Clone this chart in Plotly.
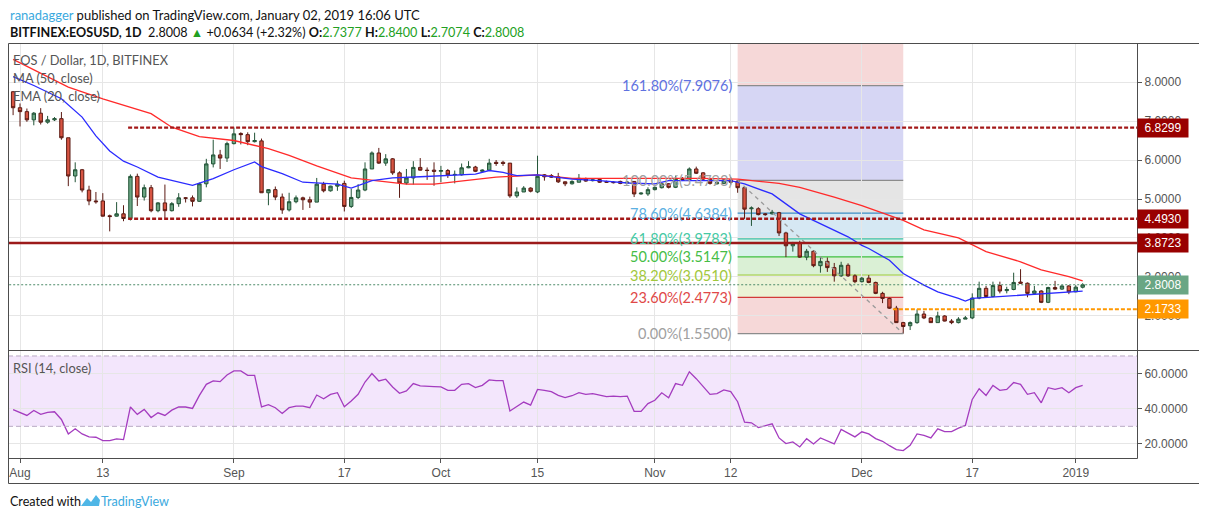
import pandas as pd
import plotly.graph_objects as go

W, H = 1207, 520
OFF = 8  # the page body margin pushes the figure 8px right and down

# daily candles 2018-07-31 .. 2019-01-02
dates = pd.date_range('2018-07-31', periods=156, freq='D')

opens = [7.75, 7.34, 7.24, 7.03, 7.20, 6.97, 7.03, 7.06, 6.57, 5.59,
         5.75, 5.23, 4.95, 4.95, 4.57, 4.56, 4.62, 4.50, 5.58, 5.05,
         5.29, 4.70, 4.90, 4.70, 4.88, 5.03, 5.03, 4.94, 5.39, 5.90,
         6.13, 6.05, 6.42, 6.68, 6.65, 6.47, 6.49, 5.16, 5.24, 5.05,
         4.72, 4.93, 5.03, 4.98, 4.92, 5.38, 5.21, 5.33, 5.40, 4.81,
         5.04, 5.23, 5.77, 6.18, 5.92, 6.03, 5.67, 5.41, 5.54, 5.81,
         5.74, 5.74, 5.71, 5.73, 5.62, 5.62, 5.80, 5.82, 5.71, 5.74,
         5.94, 5.94, 5.92, 5.08, 5.18, 5.28, 5.18, 5.62, 5.60, 5.57,
         5.44, 5.39, 5.43, 5.51, 5.47, 5.50, 5.45, 5.43, 5.45, 5.41,
         5.45, 5.13, 5.13, 5.24, 5.29, 5.39, 5.30, 5.53, 5.49, 5.77,
         5.67, 5.51, 5.39, 5.40, 5.49, 5.46, 5.29, 4.75, 4.75, 4.62,
         4.62, 4.65, 4.13, 3.80, 3.86, 3.51, 3.66, 3.29, 3.40, 3.24,
         3.03, 3.30, 3.03, 2.88, 2.97, 2.86, 2.58, 2.45, 2.20, 1.83,
         1.75, 1.83, 2.05, 1.95, 1.83, 2.00, 1.87, 1.83, 1.92, 1.95,
         2.46, 2.71, 2.50, 2.78, 2.65, 2.68, 2.87, 2.84, 2.58, 2.64,
         2.35, 2.73, 2.69, 2.77, 2.62, 2.7377]
highs = [7.77, 7.45, 7.32, 7.23, 7.33, 7.13, 7.10, 7.23, 6.57, 5.94,
         5.77, 5.34, 5.18, 5.15, 4.60, 4.92, 4.84, 5.63, 5.65, 5.37,
         5.36, 4.92, 5.37, 4.92, 5.15, 5.05, 5.09, 5.42, 6.03, 6.52,
         6.26, 6.47, 6.83, 6.71, 6.71, 6.70, 6.55, 5.25, 5.32, 5.14,
         5.16, 5.09, 5.06, 5.06, 5.54, 5.44, 5.34, 5.47, 5.47, 5.26,
         5.38, 5.94, 6.22, 6.31, 6.15, 6.05, 5.71, 5.77, 5.97, 6.05,
         5.81, 5.94, 5.85, 5.77, 5.73, 5.91, 5.97, 5.85, 5.76, 6.03,
         6.00, 5.98, 5.92, 5.30, 5.33, 5.30, 6.11, 5.64, 5.64, 5.67,
         5.45, 5.48, 5.64, 5.55, 5.52, 5.53, 5.47, 5.46, 5.47, 5.46,
         5.46, 5.17, 5.30, 5.32, 5.42, 5.41, 5.60, 5.56, 5.81, 5.83,
         5.69, 5.53, 5.45, 5.51, 5.56, 5.48, 5.29, 4.81, 4.79, 4.64,
         4.72, 4.67, 4.16, 3.90, 3.93, 3.72, 3.68, 3.51, 3.50, 3.36,
         3.39, 3.35, 3.07, 3.00, 3.05, 2.88, 2.62, 2.47, 2.26, 1.85,
         1.86, 2.17, 2.13, 1.97, 2.11, 2.02, 1.92, 1.97, 2.00, 2.58,
         2.88, 2.77, 2.88, 2.88, 2.75, 3.11, 3.20, 2.86, 2.77, 2.66,
         2.75, 2.90, 2.79, 2.79, 2.79, 2.84]
lows = [7.15, 6.86, 6.98, 6.89, 6.91, 6.93, 7.00, 6.52, 5.33, 5.43,
        5.17, 4.84, 4.88, 4.55, 4.17, 4.55, 4.43, 4.45, 4.82, 4.96,
        4.66, 4.66, 4.51, 4.68, 4.80, 4.91, 4.81, 4.93, 5.30, 5.81,
        5.77, 5.95, 6.40, 6.40, 6.38, 6.45, 5.16, 4.84, 4.97, 4.62,
        4.68, 4.89, 4.72, 4.77, 4.92, 5.17, 5.19, 5.21, 4.68, 4.77,
        5.00, 5.20, 5.77, 5.90, 5.85, 5.62, 5.03, 5.37, 5.37, 5.73,
        5.49, 5.34, 5.43, 5.54, 5.40, 5.60, 5.79, 5.69, 5.69, 5.73,
        5.85, 5.85, 5.03, 5.03, 5.18, 5.17, 5.15, 5.47, 5.54, 5.41,
        5.33, 5.37, 5.43, 5.44, 5.45, 5.41, 5.41, 5.40, 5.38, 5.39,
        5.05, 5.11, 5.08, 5.22, 5.27, 5.27, 5.28, 5.46, 5.47, 5.64,
        5.47, 5.37, 5.37, 5.38, 5.37, 5.16, 4.49, 4.31, 4.58, 4.57,
        4.60, 4.05, 3.51, 3.65, 3.49, 3.43, 3.25, 3.11, 3.13, 2.88,
        3.00, 3.00, 2.84, 2.86, 2.84, 2.56, 2.33, 2.18, 1.82, 1.55,
        1.64, 1.80, 1.92, 1.82, 1.83, 1.86, 1.79, 1.81, 1.92, 1.92,
        2.43, 2.48, 2.48, 2.58, 2.58, 2.66, 2.83, 2.48, 2.54, 2.33,
        2.33, 2.67, 2.67, 2.56, 2.61, 2.7074]
closes = [7.34, 7.24, 7.03, 7.20, 6.97, 7.03, 7.06, 6.57, 5.59, 5.75,
          5.23, 4.95, 4.93, 4.56, 4.55, 4.62, 4.50, 5.58, 5.05, 5.29,
          4.70, 4.90, 4.70, 4.88, 5.03, 5.02, 4.94, 5.39, 5.90, 6.13,
          6.05, 6.42, 6.67, 6.65, 6.47, 6.50, 5.16, 5.24, 5.05, 4.72,
          4.93, 5.03, 4.98, 4.92, 5.38, 5.21, 5.33, 5.38, 4.81, 5.04,
          5.23, 5.77, 6.18, 5.92, 6.03, 5.67, 5.41, 5.54, 5.81, 5.74,
          5.73, 5.71, 5.73, 5.62, 5.63, 5.80, 5.83, 5.71, 5.74, 5.92,
          5.91, 5.91, 5.08, 5.18, 5.28, 5.20, 5.58, 5.57, 5.56, 5.44,
          5.39, 5.45, 5.53, 5.46, 5.49, 5.43, 5.43, 5.42, 5.40, 5.43,
          5.13, 5.15, 5.24, 5.30, 5.39, 5.30, 5.53, 5.49, 5.77, 5.66,
          5.51, 5.40, 5.42, 5.49, 5.43, 5.29, 4.74, 4.77, 4.60, 4.60,
          4.66, 4.13, 3.80, 3.86, 3.51, 3.66, 3.29, 3.40, 3.24, 3.03,
          3.30, 3.03, 2.88, 2.97, 2.86, 2.58, 2.45, 2.20, 1.83, 1.73,
          1.83, 2.05, 1.95, 1.83, 2.00, 1.87, 1.83, 1.92, 1.95, 2.46,
          2.71, 2.50, 2.78, 2.64, 2.68, 2.86, 2.84, 2.58, 2.64, 2.35,
          2.73, 2.69, 2.77, 2.62, 2.74, 2.8008]

rsi = [39.5, 38.0, 36.2, 39.0, 36.8, 38.0, 38.3, 33.9, 25.7, 28.6,
       25.7, 24.0, 23.8, 21.9, 21.9, 22.9, 22.5, 41.0, 36.8, 39.6,
       35.0, 37.7, 36.2, 39.2, 41.0, 41.0, 40.2, 47.6, 53.9, 55.8,
       55.4, 59.2, 61.5, 61.5, 59.0, 59.0, 41.0, 42.3, 40.6, 37.3,
       40.6, 41.5, 41.5, 40.6, 47.8, 45.7, 48.2, 49.1, 41.1, 44.4,
       48.2, 55.2, 60.0, 55.8, 56.8, 52.4, 48.8, 50.1, 54.3, 53.0,
       52.6, 52.6, 52.4, 50.5, 50.5, 53.9, 54.3, 52.0, 53.3, 56.4,
       56.0, 56.0, 38.7, 41.5, 43.8, 42.1, 51.0, 50.5, 49.7, 47.6,
       46.3, 47.4, 49.1, 48.2, 48.6, 47.8, 46.9, 47.2, 46.9, 47.2,
       38.5, 38.5, 42.9, 44.8, 49.1, 46.3, 54.3, 53.3, 61.0, 57.1,
       52.4, 48.2, 48.6, 50.7, 49.7, 44.0, 32.4, 32.0, 29.3, 30.5,
       31.4, 23.4, 20.2, 21.1, 18.3, 23.0, 20.0, 23.4, 21.9, 20.0,
       28.2, 25.9, 24.0, 26.9, 25.7, 23.0, 21.5, 19.0, 16.8, 16.2,
       19.2, 25.7, 24.8, 23.4, 28.6, 27.0, 27.0, 29.0, 30.5, 45.3,
       51.4, 47.6, 53.3, 50.5, 51.0, 54.9, 53.9, 48.2, 49.1, 43.4,
       52.0, 51.0, 52.0, 49.1, 52.0, 53.3]

# moving averages, sampled off the chart (index into dates)
ma50_idx = [0, 3, 8, 13, 16, 20, 23, 27, 32, 37, 40, 44, 49, 54, 57, 61, 64,
            67, 70, 76, 81, 90, 100, 105, 111, 114, 119, 123, 129, 132, 137,
            141, 146, 149, 153, 155]
ma50_vals = [8.58, 8.32, 7.87, 7.57, 7.40, 7.19, 6.84, 6.60, 6.50, 6.29, 6.12,
             5.85, 5.54, 5.43, 5.38, 5.38, 5.44, 5.50, 5.56, 5.62, 5.53, 5.53,
             5.53, 5.51, 5.40, 5.30, 5.05, 4.83, 4.45, 4.21, 4.00, 3.65, 3.39,
             3.18, 3.01, 2.90]
ema20_idx = [0, 3, 7, 10, 12, 14, 16, 18, 21, 24, 26, 29, 32, 35, 36, 39, 40,
             42, 47, 49, 52, 55, 59, 64, 67, 69, 71, 73, 76, 81, 85, 89, 93,
             95, 100, 104, 106, 110, 114, 117, 121, 123, 124, 127, 129, 132,
             134, 137, 138, 139, 144, 149, 155]
ema20_vals = [8.14, 7.91, 7.57, 7.10, 6.62, 6.23, 5.97, 5.82, 5.56, 5.43, 5.35,
              5.52, 5.75, 5.95, 5.83, 5.65, 5.58, 5.43, 5.38, 5.28, 5.47, 5.54,
              5.57, 5.62, 5.64, 5.73, 5.68, 5.60, 5.62, 5.51, 5.47, 5.41, 5.39,
              5.47, 5.47, 5.47, 5.39, 5.13, 4.62, 4.37, 4.03, 3.81, 3.73, 3.43,
              3.09, 2.79, 2.62, 2.45, 2.38, 2.45, 2.51, 2.58, 2.64]

# fibonacci retracement, drawn from the Nov 13 high to the Dec 7 low
fib_start, fib_end = '2018-11-13', '2018-12-07'
fib_pcts = ['0.00', '23.60', '38.20', '50.00', '61.80', '78.60', '100.00', '161.80']
fib_levels = [1.5500, 2.4773, 3.0510, 3.5147, 3.9783, 4.6384, 5.4793, 7.9076]
fib_line_colors = ['#8c8c8c', '#d23a3a', '#9cc93a', '#3fbf3f', '#3fbfa3',
                   '#3d8fc6', '#8c8c8c', '#8c8c8c']
fib_text_colors = ['#a0a0a0', '#e04848', '#a2c83c', '#46bd46', '#45c9a4',
                   '#5cb0e2', '#a0a0a0', '#5f72e0']
fib_fills = ['#f6d8d8', '#ebf3d6', '#daf0d5', '#d7f2ea', '#d6e8f3',
             '#e5e5e5', '#d6d6f4', '#f6d8d8']

# drawn horizontal levels
level_vals = [6.8299, 4.4930, 3.8723, 2.8008, 2.1733]
level_colors = ['#990000', '#990000', '#990000', '#6aa684', '#ff9800']

tick_dates = ['2018-08-01', '2018-08-13', '2018-09-01', '2018-09-17',
              '2018-10-01', '2018-10-15', '2018-11-01', '2018-11-12',
              '2018-12-01', '2018-12-17', '2019-01-01']
tick_text = ['Aug', '13', 'Sep', '17', 'Oct', '15', 'Nov', '12', 'Dec', '17', '2019']


def px(x):
    return max(0.0, (x - OFF) / W)


def py(y):
    return 1 - (y - OFF) / H


fig = go.Figure()

fig.add_trace(go.Candlestick(
    x=dates, open=opens, high=highs, low=lows, close=closes,
    increasing=dict(fillcolor='#6ba583', line=dict(color='#225437', width=1)),
    decreasing=dict(fillcolor='#d75442', line=dict(color='#5b1a13', width=1)),
    whiskerwidth=0, xaxis='x', yaxis='y', showlegend=False, hoverinfo='skip'))

fig.add_trace(go.Scatter(
    x=[dates[k] for k in ma50_idx], y=ma50_vals, mode='lines',
    line=dict(color='#ff2a2a', width=1.3), xaxis='x', yaxis='y',
    showlegend=False, hoverinfo='skip'))
fig.add_trace(go.Scatter(
    x=[dates[k] for k in ema20_idx], y=ema20_vals, mode='lines',
    line=dict(color='#2b2bff', width=1.3), xaxis='x', yaxis='y',
    showlegend=False, hoverinfo='skip'))

fig.add_trace(go.Scatter(
    x=dates, y=rsi, mode='lines', line=dict(color='#a43cbf', width=1.3),
    xaxis='x', yaxis='y2', showlegend=False, hoverinfo='skip'))

shapes = []

# fib bands, lowest first; the last band runs above the 161.8% line
band_tops = fib_levels[1:] + [9.5]
for lo, hi, col in zip(fib_levels, band_tops, fib_fills):
    shapes.append(dict(type='rect', xref='x', yref='y', x0=fib_start, x1=fib_end,
                       y0=lo, y1=hi, fillcolor=col, line=dict(width=0),
                       layer='below'))
for lvl, col in zip(fib_levels, fib_line_colors):
    shapes.append(dict(type='line', xref='x', yref='y', x0=fib_start, x1=fib_end,
                       y0=lvl, y1=lvl, line=dict(color=col, width=1.2),
                       layer='below'))
shapes.append(dict(type='line', xref='x', yref='y', x0=fib_start, x1=fib_end,
                   y0=fib_levels[6], y1=fib_levels[0],
                   line=dict(color='#9a9a9a', width=1.3, dash='4px,4px')))

# horizontal levels
far_right = '2019-01-20'
shapes.append(dict(type='line', xref='x', yref='y', x0='2018-08-16 16:00',
                   x1=far_right, y0=level_vals[0], y1=level_vals[0],
                   line=dict(color='#a31818', width=2.4, dash='4px,2px')))
shapes.append(dict(type='line', xref='x', yref='y', x0='2018-08-16 16:00',
                   x1=far_right, y0=level_vals[1], y1=level_vals[1],
                   line=dict(color='#a31818', width=2.4, dash='4px,2px')))
shapes.append(dict(type='line', xref='x', yref='y', x0='2018-07-20',
                   x1=far_right, y0=level_vals[2], y1=level_vals[2],
                   line=dict(color='#9c1a1a', width=2.6)))
shapes.append(dict(type='line', xref='x', yref='y', x0='2018-07-20',
                   x1=far_right, y0=level_vals[3], y1=level_vals[3],
                   line=dict(color='#4d8a68', width=1, dash='2px,2px')))
shapes.append(dict(type='line', xref='x', yref='y', x0='2018-12-05 12:00',
                   x1=far_right, y0=level_vals[4], y1=level_vals[4],
                   line=dict(color='#ff9800', width=2.2, dash='4px,2px')))

# RSI band 30-70
shapes.append(dict(type='rect', xref='paper', yref='y2', x0=px(8), x1=px(1137),
                   y0=30, y1=70, fillcolor='#f3e6fc', line=dict(width=0),
                   layer='below'))
for lvl in [30, 70]:
    shapes.append(dict(type='line', xref='paper', yref='y2', x0=px(8), x1=px(1137),
                       y0=lvl, y1=lvl,
                       line=dict(color='#b9aac4', width=1, dash='5px,3px')))

# frame of the chart
frame = dict(color='#4d4d4d', width=1)
shapes.append(dict(type='rect', xref='paper', yref='paper', x0=px(8.5), x1=px(1200.5),
                   y0=py(483.5), y1=py(43.5), line=frame))
shapes.append(dict(type='line', xref='paper', yref='paper', x0=px(1137.5), x1=px(1137.5),
                   y0=py(43.5), y1=py(458.5), line=frame))
shapes.append(dict(type='line', xref='paper', yref='paper', x0=px(8.5), x1=px(1200.5),
                   y0=py(350.5), y1=py(350.5), line=frame))
shapes.append(dict(type='line', xref='paper', yref='paper', x0=px(8.5), x1=px(1137.5),
                   y0=py(458.5), y1=py(458.5), line=frame))

# little TradingView logo in the footer
logo = 'M {} {} L {} {} L {} {} L {} {} L {} {} L {} {} Z'.format(
    px(81), py(506), px(87), py(498), px(91), py(502), px(96), py(495),
    px(100), py(500), px(99), py(506))
shapes.append(dict(type='path', xref='paper', yref='paper', path=logo,
                   fillcolor='#4fb6e6', line=dict(width=0)))

annotations = []
text_family = 'Lato, Noto Sans, sans-serif'
head_font = dict(family=text_family, size=13, color='#111')
annotations.append(dict(
    xref='paper', yref='paper', x=px(8), y=py(15), xanchor='left', yanchor='middle',
    showarrow=False, font=head_font,
    text="<span style='color:#3aa9de'>ranadagger</span> published on "
         "TradingView.com, January 02, 2019 16:06 UTC"))
green = '#22a022'
annotations.append(dict(
    xref='paper', yref='paper', x=px(8), y=py(32), xanchor='left', yanchor='middle',
    showarrow=False, font=dict(family=text_family, size=12.6, color='#111'),
    text="<b>BITFINEX:EOSUSD, 1D</b>  2.8008 <span style='color:%s'>▲</span> "
         "+0.0634 (+2.32%%) <b>O:</b><span style='color:%s'>2.7377</span> "
         "<b>H:</b><span style='color:%s'>2.8400</span> "
         "<b>L:</b><span style='color:%s'>2.7074</span> "
         "<b>C:</b><span style='color:%s'>2.8008</span>"
         % (green, green, green, green, green)))

leg_font = dict(family=text_family, size=12.8, color='#555')
for txt, yy in [('EOS / Dollar, 1D, BITFINEX', 60), ('MA (50, close)', 78),
                ('EMA (20, close)', 96), ('RSI (14, close)', 368)]:
    annotations.append(dict(xref='paper', yref='paper', x=px(11), y=py(yy),
                            xanchor='left', yanchor='middle', showarrow=False,
                            text=txt, font=leg_font))

for pct, lvl, col in zip(fib_pcts, fib_levels, fib_text_colors):
    annotations.append(dict(xref='x', yref='y', x=fib_start, y=lvl, xshift=-4,
                            xanchor='right', yanchor='middle', showarrow=False,
                            text='%s%%(%.4f)' % (pct, lvl),
                            font=dict(family=text_family, size=14.5, color=col)))

for val, col in zip(level_vals, level_colors):
    annotations.append(dict(xref='paper', yref='y', x=px(1137), y=val,
                            xanchor='left', yanchor='middle', showarrow=False,
                            text='%.4f' % val, bgcolor=col, width=46, height=14,
                            borderpad=2, align='center',
                            font=dict(family='Arial, Liberation Sans', size=12,
                                      color='white')))

annotations.append(dict(xref='paper', yref='paper', x=px(8), y=py(501),
                        xanchor='left', yanchor='middle', showarrow=False,
                        text='Created with',
                        font=dict(family=text_family, size=12.6, color='#111')))
annotations.append(dict(xref='paper', yref='paper', x=px(99), y=py(501),
                        xanchor='left', yanchor='middle', showarrow=False,
                        text='TradingView',
                        font=dict(family=text_family, size=12.6, color='#3aa9de')))

tick_font = dict(family='Arial, Liberation Sans', size=12, color='#555')
fig.update_layout(
    width=W, height=H, margin=dict(l=0, r=0, t=0, b=0),
    paper_bgcolor='white', plot_bgcolor='white',
    shapes=shapes, annotations=annotations,
    xaxis=dict(type='date', domain=[px(8), px(1137)], anchor='y2',
               range=['2018-07-30 06:15', '2019-01-09 21:00'],
               tickvals=tick_dates, ticktext=tick_text, tickfont=tick_font,
               showgrid=True, gridcolor='#e6e6e6', ticks='outside', ticklen=4,
               tickcolor='#555', zeroline=False, showline=False,
               rangeslider=dict(visible=False)),
    yaxis=dict(domain=[py(350), py(43)], range=[1.128, 9.0], side='right',
               anchor='x', tickvals=[2, 3, 4, 5, 6, 7, 8], tickformat='.4f',
               tickfont=tick_font, showgrid=True, gridcolor='#e6e6e6',
               ticks='outside', ticklen=4, tickcolor='#555', zeroline=False,
               showline=False),
    yaxis2=dict(domain=[py(458), py(350)], range=[12.0, 73.4], side='right',
                anchor='x', tickvals=[20, 40, 60], tickformat='.4f',
                tickfont=tick_font, showgrid=True, gridcolor='#e6e6e6',
                ticks='outside', ticklen=4, tickcolor='#555', zeroline=False,
                showline=False),
)

fig.write_html('out.html')
